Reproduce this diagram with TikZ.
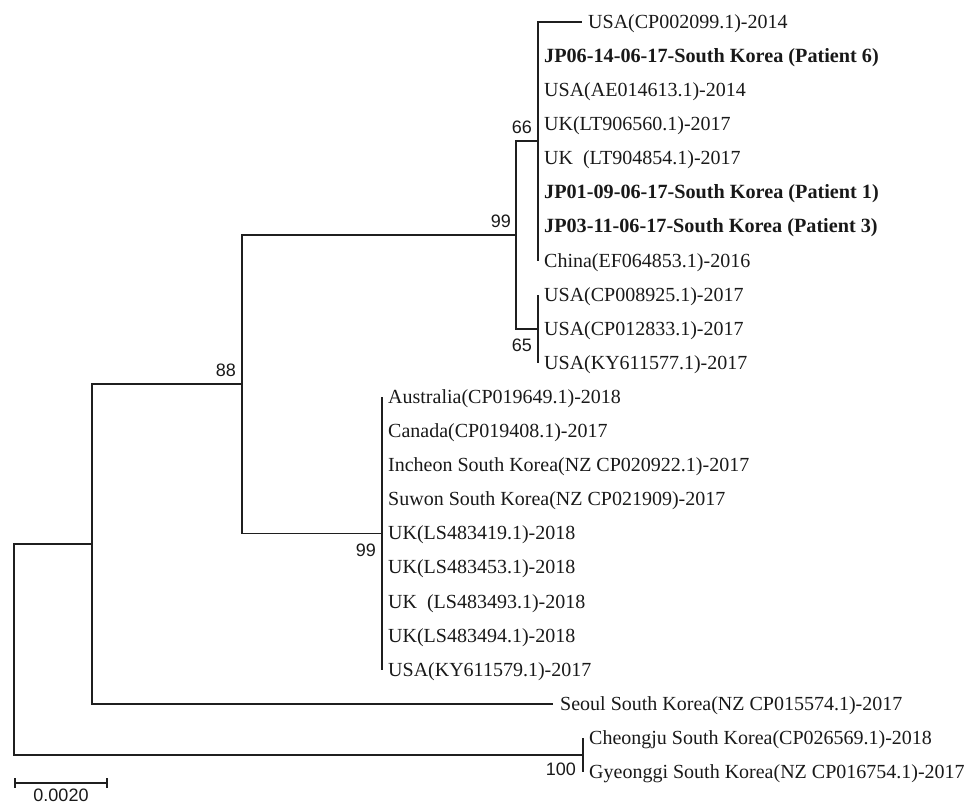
\documentclass[tikz,border=0pt]{standalone}
\usepackage{fontspec}
\setmainfont{Liberation Serif}
\newfontfamily\arialfont{Liberation Sans}
\begin{document}
\begin{tikzpicture}[x=1pt,y=-1pt,
  br/.style={line width=1.8pt, draw=black!88},
  leaf/.style={anchor=base west, inner sep=0pt, text=black!90, font=\fontsize{20}{20}\selectfont},
  bleaf/.style={leaf, font=\fontsize{20.2}{20}\selectfont\bfseries},
  boot/.style={anchor=base east, inner sep=0pt, text=black!90, font=\arialfont\fontsize{18}{18}\selectfont}]
\useasboundingbox (0,0) rectangle (966,805);
% internal nodes
\coordinate (root) at (14,649.5);
\coordinate (nA) at (92,544);
\coordinate (n88) at (242,384.2);
\coordinate (u99) at (516,235);
\coordinate (n66) at (538,141.3);
\coordinate (n65) at (538,328.8);
\coordinate (l99) at (382,533.4);
\coordinate (n100) at (583,755);
% tips
\coordinate (t0) at (582,22);
\coordinate (t1) at (538,56.1);
\coordinate (t2) at (538,90.2);
\coordinate (t3) at (538,124.3);
\coordinate (t4) at (538,158.4);
\coordinate (t5) at (538,192.5);
\coordinate (t6) at (538,226.5);
\coordinate (t7) at (538,260.6);
\coordinate (t8) at (538,294.7);
\coordinate (t9) at (538,328.8);
\coordinate (t10) at (538,362.9);
\coordinate (t11) at (382,397);
\coordinate (t12) at (382,431.1);
\coordinate (t13) at (382,465.2);
\coordinate (t14) at (382,499.3);
\coordinate (t15) at (382,533.4);
\coordinate (t16) at (382,567.4);
\coordinate (t17) at (382,601.5);
\coordinate (t18) at (382,635.6);
\coordinate (t19) at (382,669.7);
\coordinate (t20) at (553,703.8);
\coordinate (t21) at (583,737.9);
\coordinate (t22) at (583,772);
% branches
\draw[br] (root) |- (nA);
\draw[br] (root) |- (n100);
\draw[br] (nA) |- (n88);
\draw[br] (nA) |- (t20);
\draw[br] (n88) |- (u99);
\draw[br] (n88) |- (l99);
\draw[br] (u99) |- (n66);
\draw[br] (u99) |- (n65);
\draw[br] (n66) |- (t0);
\draw[br] (n66) |- (t7);
\draw[br] (n65) |- (t8);
\draw[br] (n65) |- (t10);
\draw[br] (l99) |- (t11);
\draw[br] (l99) |- (t19);
\draw[br] (n100) |- (t21);
\draw[br] (n100) |- (t22);
% leaf labels
\node[leaf] (lab0) at ([xshift=6pt,yshift=-6.5pt]t0) {USA(CP002099.1)-2014};
\node[bleaf] (lab1) at ([xshift=6pt,yshift=-6.5pt]t1) {JP06-14-06-17-South Korea (Patient 6)};
\node[leaf] (lab2) at ([xshift=6pt,yshift=-6.5pt]t2) {USA(AE014613.1)-2014};
\node[leaf] (lab3) at ([xshift=6pt,yshift=-6.5pt]t3) {UK(LT906560.1)-2017};
\node[leaf] (lab4) at ([xshift=6pt,yshift=-6.5pt]t4) {UK\ \ (LT904854.1)-2017};
\node[bleaf] (lab5) at ([xshift=6pt,yshift=-6.5pt]t5) {JP01-09-06-17-South Korea (Patient 1)};
\node[bleaf] (lab6) at ([xshift=6pt,yshift=-6.5pt]t6) {JP03-11-06-17-South Korea (Patient 3)};
\node[leaf] (lab7) at ([xshift=6pt,yshift=-6.5pt]t7) {China(EF064853.1)-2016};
\node[leaf] (lab8) at ([xshift=6pt,yshift=-6.5pt]t8) {USA(CP008925.1)-2017};
\node[leaf] (lab9) at ([xshift=6pt,yshift=-6.5pt]t9) {USA(CP012833.1)-2017};
\node[leaf] (lab10) at ([xshift=6pt,yshift=-6.5pt]t10) {USA(KY611577.1)-2017};
\node[leaf] (lab11) at ([xshift=6pt,yshift=-6.5pt]t11) {Australia(CP019649.1)-2018};
\node[leaf] (lab12) at ([xshift=6pt,yshift=-6.5pt]t12) {Canada(CP019408.1)-2017};
\node[leaf] (lab13) at ([xshift=6pt,yshift=-6.5pt]t13) {Incheon South Korea(NZ CP020922.1)-2017};
\node[leaf] (lab14) at ([xshift=6pt,yshift=-6.5pt]t14) {Suwon South Korea(NZ CP021909)-2017};
\node[leaf] (lab15) at ([xshift=6pt,yshift=-6.5pt]t15) {UK(LS483419.1)-2018};
\node[leaf] (lab16) at ([xshift=6pt,yshift=-6.5pt]t16) {UK(LS483453.1)-2018};
\node[leaf] (lab17) at ([xshift=6pt,yshift=-6.5pt]t17) {UK\ \ (LS483493.1)-2018};
\node[leaf] (lab18) at ([xshift=6pt,yshift=-6.5pt]t18) {UK(LS483494.1)-2018};
\node[leaf] (lab19) at ([xshift=6pt,yshift=-6.5pt]t19) {USA(KY611579.1)-2017};
\node[leaf] (lab20) at ([xshift=7pt,yshift=-6.5pt]t20) {Seoul South Korea(NZ CP015574.1)-2017};
\node[leaf] (lab21) at ([xshift=6pt,yshift=-6.5pt]t21) {Cheongju South Korea(CP026569.1)-2018};
\node[leaf] (lab22) at ([xshift=6pt,yshift=-6.5pt]t22) {Gyeonggi South Korea(NZ CP016754.1)-2017};
% bootstrap values
\node[boot] (b66) at ([xshift=-6pt,yshift=8pt]n66) {66};
\node[boot] (b65) at ([xshift=-6pt,yshift=-23pt]n65) {65};
\node[boot] (b99u) at ([xshift=-5pt,yshift=8pt]u99) {99};
\node[boot] (b88) at ([xshift=-6pt,yshift=8pt]n88) {88};
\node[boot] (b99l) at ([xshift=-6pt,yshift=-23.5pt]l99) {99};
\node[boot] (b100) at ([xshift=-7pt,yshift=-20pt]n100) {100};
% scale bar
\coordinate (sb1) at (15,783);
\coordinate (sb2) at (107,783);
\draw[br, line width=1.5pt] (sb1) -- (sb2);
\draw[br, line width=1.5pt] ([yshift=5pt]sb1) -- ([yshift=-5pt]sb1);
\draw[br, line width=1.5pt] ([yshift=5pt]sb2) -- ([yshift=-5pt]sb2);
\node[boot, anchor=base] (sbl) at (61,801) {0.0020};
\end{tikzpicture}
\end{document}
